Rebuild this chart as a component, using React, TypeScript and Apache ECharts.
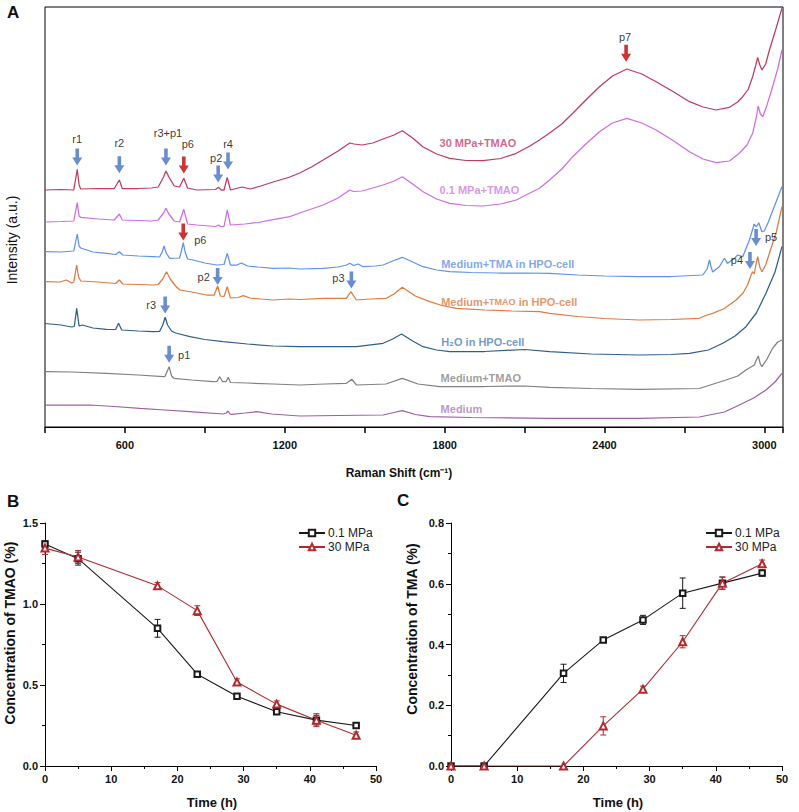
import { useEffect, useRef } from 'react';
import * as echarts from 'echarts';

const FONT = 'Arial, "Liberation Sans", Helvetica, sans-serif';

// ---------- Panel A: Raman spectra [Raman shift (cm-1), intensity (a.u., offset)] ----------
const spec30MPaTMAO: number[][] = [
  [300, 237], [360, 237.5], [408, 237], [421, 257.7], [428, 242], [434, 238], [500, 238.5], [560, 238.5], [579, 247], [590, 238.5],
  [650, 238.5], [700, 239], [725, 240], [745, 250], [754, 256], [765, 250], [785, 241], [805, 240], [821, 248.7], [835, 239],
  [870, 237], [940, 237.5], [951, 239.7], [962, 237], [972, 237], [984, 249.7], [996, 237], [1040, 240], [1070, 238], [1110, 241],
  [1156, 245], [1219, 250], [1256, 254], [1300, 260], [1344, 267], [1400, 276], [1444, 284], [1460, 283], [1490, 282], [1530, 284],
  [1569, 288], [1610, 292], [1641, 296.3], [1680, 289], [1719, 280], [1770, 273], [1819, 268.7], [1880, 266.5], [1944, 266.3], [2010, 268.5],
  [2069, 273.7], [2120, 281], [2156, 287], [2194, 294], [2240, 303], [2281, 313.7], [2330, 327], [2381, 340.3], [2430, 351], [2484, 358],
  [2540, 353], [2594, 345.3], [2660, 335], [2719, 325.3], [2770, 320], [2819, 317], [2869, 319.7], [2900, 325], [2919, 330.3], [2940, 338],
  [2956, 350.3], [2968, 362], [2975, 369.7], [2983, 362], [2991, 357], [3005, 363], [3019, 377], [3040, 395], [3066, 418.7],
];
const spec01MPaTMAO: number[][] = [
  [300, 205], [360, 205.5], [408, 206], [421, 224.3], [428, 211], [434, 209.7], [500, 208], [560, 207], [579, 213], [590, 207],
  [650, 206.5], [700, 206], [725, 207], [745, 214], [754, 218.7], [765, 213], [785, 206], [805, 205], [821, 217.7], [835, 203],
  [870, 202], [940, 200.5], [951, 202], [962, 200.3], [972, 200.5], [984, 217], [996, 202], [1050, 203], [1100, 204.5], [1156, 207.3],
  [1219, 210.3], [1256, 214], [1300, 218], [1344, 222], [1400, 229], [1444, 237], [1458, 235.5], [1490, 236], [1530, 239], [1569, 242],
  [1610, 246], [1641, 250.3], [1680, 243], [1719, 235.3], [1770, 228], [1819, 223.7], [1880, 221.5], [1944, 221], [2010, 223], [2069, 227],
  [2120, 234], [2156, 238.7], [2194, 247], [2240, 258], [2281, 270.3], [2330, 283], [2381, 295.3], [2430, 304], [2484, 308.7], [2540, 304],
  [2594, 297], [2660, 286], [2719, 275.3], [2770, 268], [2819, 264.3], [2869, 266], [2906, 273.7], [2935, 282], [2956, 293.7], [2970, 310],
  [2977, 321], [2985, 313], [2994, 310.3], [3010, 322], [3031, 340.3], [3050, 358], [3066, 377],
];
const specTMAcell: number[][] = [
  [300, 175.3], [360, 175], [408, 176], [421, 193], [428, 181], [434, 179], [480, 175], [531, 173.7], [565, 172.5], [579, 175.3],
  [592, 172], [650, 171], [706, 170.3], [730, 170], [740, 175], [747, 181], [755, 174], [768, 168.7], [805, 169], [812, 176],
  [819, 184.3], [826, 175], [835, 168], [856, 167], [900, 164], [944, 162], [972, 162.5], [984, 173.7], [996, 162], [1020, 162],
  [1037, 164], [1060, 161], [1100, 160], [1156, 158.7], [1219, 159], [1256, 158], [1344, 158.7], [1400, 160], [1432, 162], [1444, 163.7],
  [1458, 161.5], [1475, 163], [1494, 160.3], [1540, 161], [1569, 162], [1605, 166], [1641, 169.7], [1680, 165], [1719, 160.3], [1770, 157],
  [1819, 155.3], [1900, 154.5], [2000, 154], [2100, 154], [2194, 153.7], [2300, 152], [2400, 151], [2531, 150.3], [2650, 150.5], [2769, 152],
  [2785, 158], [2794, 167], [2800, 160], [2806, 155], [2831, 160.3], [2850, 168.7], [2862, 163.7], [2885, 168], [2900, 172], [2919, 170.3],
  [2944, 187], [2962, 203], [2970, 200], [2979, 204.3], [2991, 195.3], [3000, 196], [3015, 205], [3037, 220.3], [3066, 240.3],
];
const specTMAOcell: number[][] = [
  [300, 145.3], [356, 145], [380, 147], [400, 144], [408, 145], [419, 162], [426, 150], [434, 146], [500, 145], [565, 143.5],
  [579, 147], [592, 143], [650, 142.5], [706, 142], [725, 142.5], [742, 148], [756, 155.3], [770, 148], [790, 141], [806, 137],
  [850, 135], [906, 132], [935, 132], [948, 141], [958, 131], [972, 130.5], [984, 140.3], [996, 129], [1025, 129.5], [1044, 131.3],
  [1070, 129], [1110, 128], [1156, 127], [1219, 128], [1256, 127.5], [1344, 128.7], [1431, 128.7], [1448, 135.3], [1469, 127], [1520, 128],
  [1581, 128.7], [1610, 133], [1641, 139.7], [1690, 131], [1744, 125.3], [1790, 121.5], [1844, 118.7], [1950, 117], [2050, 116], [2156, 115.3],
  [2194, 113.7], [2300, 110.5], [2400, 108.5], [2531, 107], [2650, 107.5], [2756, 108.7], [2785, 112], [2806, 113.7], [2850, 118.5], [2894, 127],
  [2920, 134], [2937, 142], [2950, 152], [2956, 155.3], [2962, 153], [2969, 163], [2975, 170.3], [2983, 160], [2991, 155.3], [3005, 162],
  [3019, 173.7], [3045, 195], [3066, 220.3],
];
const specH2Ocell: number[][] = [
  [300, 103.5], [360, 102], [400, 100], [410, 100.5], [419, 118.7], [428, 101], [440, 102], [480, 99], [531, 97.7], [565, 97.5],
  [576, 103.7], [588, 97], [650, 96], [706, 95.3], [730, 95.5], [742, 102], [751, 109.7], [760, 102], [775, 96], [790, 94],
  [844, 90.3], [900, 87.5], [969, 85.3], [1060, 83], [1156, 81], [1256, 80.3], [1350, 80.3], [1469, 80.3], [1569, 83.7], [1605, 88],
  [1638, 93], [1680, 86], [1719, 80.3], [1770, 77], [1819, 75.3], [1950, 75.5], [2100, 77.5], [2194, 75.3], [2350, 73], [2531, 72],
  [2650, 72.5], [2719, 73.7], [2790, 77], [2844, 83.7], [2890, 91], [2931, 100.3], [2970, 114], [3006, 133.7], [3040, 155], [3066, 180.3],
];
const specMediumTMAO: number[][] = [
  [300, 55.3], [400, 55], [531, 53.7], [650, 52], [744, 50.3], [750, 50.5], [766, 60.3], [775, 51], [784, 48.7], [850, 47],
  [931, 45.3], [945, 45.5], [956, 50.3], [966, 45.5], [980, 45.5], [988, 49.7], [996, 44.5], [1060, 44], [1156, 43], [1256, 42],
  [1350, 43], [1431, 43.7], [1452, 47.7], [1469, 42], [1580, 43], [1641, 48.7], [1700, 43], [1781, 40.3], [1950, 40.5], [2100, 41],
  [2194, 39.7], [2350, 38.5], [2531, 37.7], [2756, 38.5], [2856, 47], [2900, 51], [2931, 57], [2962, 62], [2970, 67], [2977, 71],
  [2985, 63], [2991, 60.3], [3010, 68], [3031, 78.7], [3050, 85], [3066, 87],
];
const specMedium: number[][] = [
  [300, 22], [469, 22], [560, 20.5], [656, 18.7], [750, 17], [844, 15.3], [969, 13], [980, 14], [987, 16], [994, 13],
  [1000, 12.7], [1050, 14], [1094, 15.3], [1150, 13], [1256, 11], [1400, 11.5], [1569, 12], [1610, 14.5], [1641, 16.3], [1690, 12.5],
  [1744, 10.3], [1900, 9.5], [2194, 8.7], [2531, 8.7], [2756, 10], [2850, 15], [2906, 22], [2960, 29], [3006, 37], [3040, 45], [3066, 53.7],
];

const spectrumNames = ['30 MPa+TMAO', '0.1 MPa+TMAO', 'Medium+TMA in HPO-cell', 'Medium+TMAO in HPO-cell', 'H₂O in HPO-cell', 'Medium+TMAO', 'Medium'];
const spectrumData = [spec30MPaTMAO, spec01MPaTMAO, specTMAcell, specTMAOcell, specH2Ocell, specMediumTMAO, specMedium];
// annotation anchors (data coordinates) for the series name texts
const spectrumLabelShift = [1779, 1779, 1785, 1785, 1785, 1783, 1783];
const spectrumLabelLevel = [284, 237, 163, 125.3, 85.3, 49.3, 18];

// peak markers
const arrowNames = ['r1', 'r2', 'r3+p1', 'p6', 'p2', 'r4', 'p6', 'p2', 'r3', 'p1', 'p3', 'p7', 'p5', 'p4'];
const arrowShift = [421, 579, 754, 821, 950, 987, 819, 948, 751, 766, 1450, 2481, 2969, 2946];
const arrowLevel = [270, 262.3, 270, 262, 253, 266, 195, 150.5, 122, 72.7, 147, 373.7, 189.5, 166.5];
const arrowIsRed = [false, false, false, true, false, false, true, false, false, false, false, true, false, false];

// ---------- Panels B & C ----------
const timeH = [0, 5, 17, 23, 29, 35, 41, 47];
const tmao01 = [1.37, 1.28, 0.85, 0.567, 0.431, 0.335, 0.283, 0.25];
const tmao01Err = [0.02, 0.04, 0.055, 0.01, 0.01, 0.012, 0.03, 0.01];
const tmao30 = [1.345, 1.29, 1.112, 0.959, 0.518, 0.382, 0.283, 0.19];
const tmao30Err = [0.04, 0.04, 0.02, 0.03, 0.02, 0.02, 0.04, 0.02];
const tma01 = [0, 0, 0.305, 0.415, 0.481, 0.569, 0.602, 0.635];
const tma01Err = [0, 0, 0.03, 0.008, 0.015, 0.05, 0.02, 0.01];
const tma30 = [0, 0, 0, 0.132, 0.253, 0.409, 0.602, 0.666];
const tma30Err = [0, 0, 0, 0.03, 0.01, 0.02, 0.02, 0.012];

// ---------- styles ----------
const spectrumColors = ['#c33a5e', '#cf6ce9', '#5f92ec', '#e07a3f', '#2f5e8e', '#808080', '#a05ea6'];
const spectrumLabelColors = ['#c8416a', '#d07ae8', '#5f92ec', '#e07a3f', '#4e80ba', '#858585', '#a97cb8'];
const arrowLabelOffset = [[0, -18], [0, -22], [2, -24], [4, -21], [-2, -16], [0, -17], [17, 8], [-14, 0], [-14, 0], [15, 1], [-13, -2], [-1, -16], [15, -1], [-13, -1]];
const BLUE = '#4472c4';
const RED = '#c00000';
const BLACK_LINE = '#1a1a1a';
const RED_LINE = '#b22a2e';
const ARROW = 'path://M3.2,0L6.8,0L6.8,9L10,9L5,17L0,9L3.2,9Z';

function errorSeries(name: string, mean: number[], err: number[], color: string, idx: number) {
  const data = timeH
    .map((t, i) => [t, mean[i] - err[i], mean[i] + err[i], err[i]])
    .filter((d) => d[3] > 0);
  return {
    type: 'custom',
    name: name + ' err',
    xAxisIndex: idx,
    yAxisIndex: idx,
    silent: true,
    z: 3,
    encode: { x: 0, y: [1, 2] },
    data,
    renderItem: (params: any, api: any) => {
      const x = api.value(0);
      const lo = api.coord([x, api.value(1)]);
      const hi = api.coord([x, api.value(2)]);
      const hw = 3;
      const st = { stroke: color, lineWidth: 1 };
      return {
        type: 'group',
        children: [
          { type: 'line', shape: { x1: hi[0], y1: hi[1], x2: lo[0], y2: lo[1] }, style: st },
          { type: 'line', shape: { x1: hi[0] - hw, y1: hi[1], x2: hi[0] + hw, y2: hi[1] }, style: st },
          { type: 'line', shape: { x1: lo[0] - hw, y1: lo[1], x2: lo[0] + hw, y2: lo[1] }, style: st },
        ],
      };
    },
  };
}

function lineSeries(name: string, mean: number[], color: string, symbol: string, size: number, idx: number) {
  return {
    type: 'line',
    name,
    xAxisIndex: idx,
    yAxisIndex: idx,
    data: timeH.map((t, i) => [t, mean[i]]),
    symbol,
    symbolSize: size,
    showSymbol: true,
    lineStyle: { color, width: 1.1 },
    itemStyle: { color, borderColor: color, borderWidth: 0.8 },
    z: 4,
    silent: true,
  };
}

const tickLabel = { fontFamily: FONT, fontSize: 11, fontWeight: 'bold' as const, color: '#111' };

function smallXAxis(idx: number) {
  return {
    gridIndex: idx,
    type: 'value',
    min: 0,
    max: 50,
    interval: 10,
    axisLine: { show: true, onZero: false, lineStyle: { color: '#000', width: 1 } },
    axisTick: { show: true, inside: false, length: 5, lineStyle: { color: '#000' } },
    minorTick: { show: true, splitNumber: 2, length: 3, lineStyle: { color: '#000' } },
    axisLabel: { ...tickLabel, margin: 7 },
    splitLine: { show: false },
  };
}
function smallYAxis(idx: number, max: number, interval: number) {
  return {
    gridIndex: idx,
    type: 'value',
    min: 0,
    max,
    interval,
    axisLine: { show: true, onZero: false, lineStyle: { color: '#000', width: 1 } },
    axisTick: { show: true, inside: false, length: 5, lineStyle: { color: '#000' } },
    minorTick: { show: true, splitNumber: 2, length: 3, lineStyle: { color: '#000' } },
    axisLabel: { ...tickLabel, margin: 7, formatter: (v: number) => v.toFixed(1) },
    splitLine: { show: false },
  };
}

export default function App() {
  const ref = useRef<HTMLDivElement>(null);
  useEffect(() => {
    if (!ref.current) return;
    const chart = echarts.init(ref.current, undefined, { renderer: 'svg' });

    const spectraSeries = spectrumData.map((d, i) => ({
      type: 'line',
      name: spectrumNames[i],
      xAxisIndex: 0,
      yAxisIndex: 0,
      data: d,
      showSymbol: false,
      symbol: 'none',
      smooth: false,
      silent: true,
      lineStyle: { color: spectrumColors[i], width: 1.25 },
      z: 2,
    }));

    const labelSeries = {
      type: 'scatter',
      xAxisIndex: 0,
      yAxisIndex: 0,
      symbolSize: 1,
      silent: true,
      itemStyle: { color: 'rgba(0,0,0,0)' },
      z: 5,
      data: spectrumNames.map((n, i) => ({
        value: [spectrumLabelShift[i], spectrumLabelLevel[i]],
        label: {
          show: true,
          position: 'right',
          distance: 0,
          formatter: n === 'Medium+TMAO in HPO-cell' ? 'Medium+{s|TMAO} in HPO-cell' : n,
          color: spectrumLabelColors[i],
          fontFamily: FONT,
          fontSize: 11,
          fontWeight: 'bold',
          rich: {
            s: { fontSize: 9, fontWeight: 'bold', fontFamily: FONT, color: spectrumLabelColors[i] },
          },
        },
      })),
    };

    const arrowSeries = {
      type: 'scatter',
      xAxisIndex: 0,
      yAxisIndex: 0,
      symbol: ARROW,
      symbolSize: [10, 17],
      silent: true,
      z: 6,
      data: arrowNames.map((n, i) => ({
        value: [arrowShift[i], arrowLevel[i]],
        itemStyle: { color: arrowIsRed[i] ? RED : BLUE },
        label: {
          show: true,
          position: [5, 8.5],
          align: 'center',
          verticalAlign: 'middle',
          offset: arrowLabelOffset[i],
          formatter: n,
          color: '#000',
          textBorderWidth: 0,
          fontFamily: FONT,
          fontSize: 11,
        },
      })),
    };

    const titleStyle = (size: number, bold: boolean) => ({
      fontFamily: FONT,
      fontSize: size,
      fontWeight: bold ? 'bold' : 'normal',
      fill: '#111',
      textAlign: 'center',
      textVerticalAlign: 'middle',
    });

    chart.setOption({
      animation: false,
      backgroundColor: '#fff',
      grid: [
        { left: 45, top: 7, width: 738, height: 420, show: true, borderColor: '#000', borderWidth: 1, backgroundColor: 'transparent' },
        { left: 45, top: 523, width: 331, height: 243 },
        { left: 451, top: 523, width: 331, height: 243 },
      ],
      xAxis: [
        {
          gridIndex: 0,
          type: 'value',
          min: 300,
          max: 3070,
          interval: 300,
          axisLine: { show: true, onZero: false, lineStyle: { color: '#000', width: 1 } },
          axisTick: { show: true, inside: false, length: 6, lineStyle: { color: '#000', width: 1.5 } },
          axisLabel: {
            ...tickLabel,
            margin: 12,
            formatter: (v: number) => (v % 600 === 0 ? String(v) : ''),
          },
          splitLine: { show: false },
        },
        smallXAxis(1),
        smallXAxis(2),
      ],
      yAxis: [
        { gridIndex: 0, type: 'value', min: 0, max: 420, show: false },
        smallYAxis(1, 1.5, 0.5),
        smallYAxis(2, 0.8, 0.2),
      ],
      legend: [
        {
          left: 298, top: 527, orient: 'vertical', padding: 0, itemGap: 2, itemWidth: 26, itemHeight: 8,
          data: ['0.1 MPa', '30 MPa'], selectedMode: false,
          textStyle: { fontFamily: FONT, fontSize: 12, color: '#222', padding: [0, 0, 0, -2] },
        },
        {
          left: 705, top: 527, orient: 'vertical', padding: 0, itemGap: 2, itemWidth: 26, itemHeight: 8,
          data: ['0.1 MPa', '30 MPa'], selectedMode: false,
          textStyle: { fontFamily: FONT, fontSize: 12, color: '#222', padding: [0, 0, 0, -2] },
        },
      ],
      series: [
        ...spectraSeries,
        labelSeries,
        arrowSeries,
        errorSeries('0.1 MPa', tmao01, tmao01Err, BLACK_LINE, 1),
        errorSeries('30 MPa', tmao30, tmao30Err, RED_LINE, 1),
        lineSeries('0.1 MPa', tmao01, BLACK_LINE, 'emptyRect', 5.5, 1),
        lineSeries('30 MPa', tmao30, RED_LINE, 'emptyTriangle', 7, 1),
        errorSeries('0.1 MPa', tma01, tma01Err, BLACK_LINE, 2),
        errorSeries('30 MPa', tma30, tma30Err, RED_LINE, 2),
        lineSeries('0.1 MPa', tma01, BLACK_LINE, 'emptyRect', 5.5, 2),
        lineSeries('30 MPa', tma30, RED_LINE, 'emptyTriangle', 7, 2),
      ],
      graphic: [
        { type: 'text', left: 7, top: 4, style: { text: 'A', fontFamily: FONT, fontSize: 17, fontWeight: 'bold', fill: '#111' } },
        { type: 'text', left: 7, top: 493, style: { text: 'B', fontFamily: FONT, fontSize: 17, fontWeight: 'bold', fill: '#111' } },
        { type: 'text', left: 397, top: 492, style: { text: 'C', fontFamily: FONT, fontSize: 17, fontWeight: 'bold', fill: '#111' } },
        { type: 'text', x: 12, y: 240, rotation: Math.PI / 2, style: { text: 'Intensity (a.u.)', ...titleStyle(14, false) } },
        { type: 'text', x: 399, y: 473, style: { text: 'Raman Shift (cm⁻¹)', ...titleStyle(12, true) } },
        { type: 'text', x: 10, y: 633, rotation: Math.PI / 2, style: { text: 'Concentration of TMAO (%)', ...titleStyle(14, true) } },
        { type: 'text', x: 212, y: 802, style: { text: 'Time (h)', ...titleStyle(13, true) } },
        { type: 'text', x: 412, y: 629, rotation: Math.PI / 2, style: { text: 'Concentration of TMA (%)', ...titleStyle(14, true) } },
        { type: 'text', x: 618, y: 802, style: { text: 'Time (h)', ...titleStyle(13, true) } },
      ],
    });
    return () => chart.dispose();
  }, []);
  return <div ref={ref} style={{ position: 'absolute', left: 0, top: 0, width: 799, height: 812 }} />;
}
